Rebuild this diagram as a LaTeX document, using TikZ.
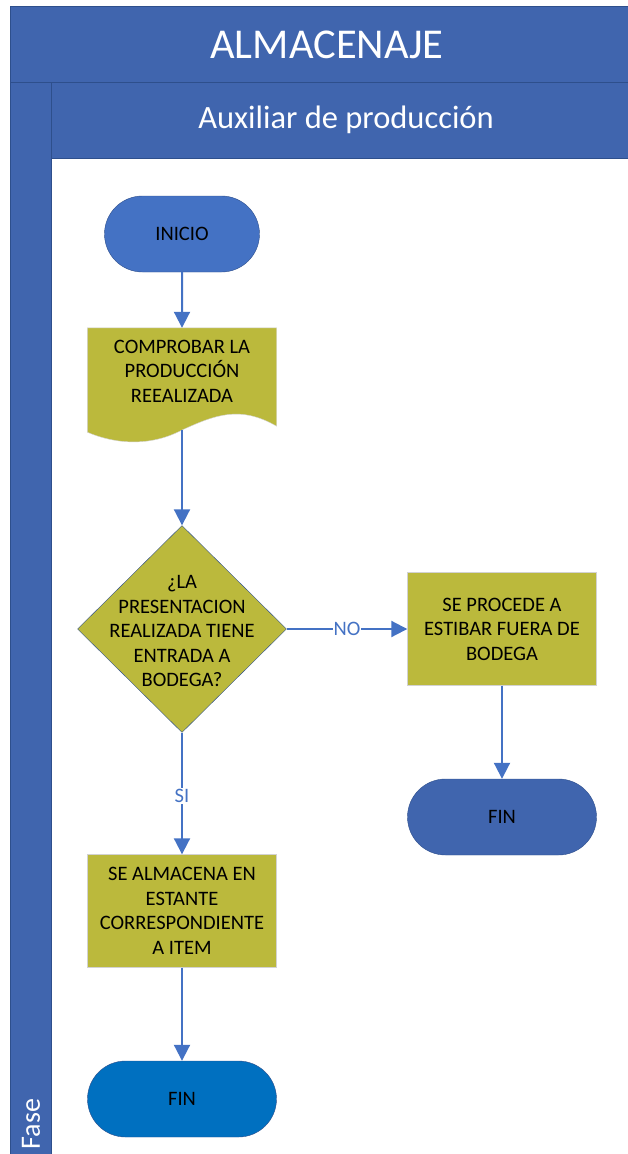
\documentclass[tikz,border=0pt]{standalone}
\usepackage{fontspec}
\setmainfont{Carlito}
\usetikzlibrary{shapes.geometric,shapes.misc,arrows.meta,calc}
\definecolor{banda}{HTML}{4065AE}
\definecolor{bordebanda}{HTML}{2E4F8C}
\definecolor{oliva}{HTML}{BBB93C}
\definecolor{flecha}{HTML}{4472C4}
\definecolor{azulfin}{HTML}{0070C0}

\begin{document}
\begin{tikzpicture}[x=1pt,y=-1pt,
		texto/.style={align=center,font=\fontsize{20.5}{24.5}\selectfont},
		caja/.style={texto,draw=gray!35,fill=oliva,minimum width=189pt,minimum height=113pt,inner sep=0pt},
		terminal/.style={texto,rounded rectangle,draw=bordebanda,minimum height=76pt,inner sep=0pt},
		flujo/.style={draw=flecha,line width=2pt,-{Triangle[width=16pt,length=16pt]}},
		rotulo/.style={fill=white,text=flecha,inner sep=1pt,font=\fontsize{20.5}{22}\selectfont}]
	\useasboundingbox (0,0) rectangle (628,1154);
	% carril con cabecera
	\filldraw[fill=banda,draw=bordebanda] (10,6) rectangle (660,82);
	\filldraw[fill=banda,draw=bordebanda] (51,82) rectangle (660,158);
	\filldraw[fill=banda,draw=bordebanda] (10,82) rectangle (51,1170);
	\node[text=white,font=\fontsize{42.5}{48}\selectfont] (titulo) at (327,45) {ALMACENAJE};
	\node[text=white,font=\fontsize{32.5}{36}\selectfont] (cargo) at (346,120) {Auxiliar de producción};
	\node[text=white,rotate=90,font=\fontsize{28}{32}\selectfont] (fase) at (31,1124) {Fase};

	% bloques
	\node[terminal,fill=flecha,minimum width=155pt] (inicio) at (182,234) {INICIO};
	\node[minimum width=189pt,minimum height=86pt,inner sep=0pt] (comprobar) at (182,371) {};
	\filldraw[fill=oliva,draw=gray!35] (comprobar.north west) -- (comprobar.north east) -- ($(comprobar.south east)+(0,12)$)
		.. controls (240,405) and (215,415) .. (182,430) .. controls (150,447) and (115,444) .. ($(comprobar.south west)+(0,18)$) -- cycle;
	\node[texto] (comprobartxt) at (comprobar) {COMPROBAR LA\\PRODUCCIÓN\\REEALIZADA};
	\coordinate (onda) at (182,430);
	\node[diamond,draw=bordebanda,fill=oliva,minimum width=209pt,minimum height=207pt,inner sep=0pt] (pregunta) at (182,629) {};
	\node[texto] (preguntatxt) at (182,631) {¿LA\\PRESENTACION\\REALIZADA TIENE\\ENTRADA A\\BODEGA?};
	\node[caja] (estibar) at (502,629) {SE PROCEDE A\\ESTIBAR FUERA DE\\BODEGA};
	\node[terminal,fill=banda,minimum width=189pt] (fin1) at (502,817) {FIN};
	\node[caja] (almacena) at (182,911) {SE ALMACENA EN\\ESTANTE\\CORRESPONDIENTE\\A ITEM};
	\node[terminal,fill=azulfin,minimum width=189pt] (fin2) at (182,1099) {FIN};

	% conectores
	\draw[flujo] (inicio) -- (comprobar.north);
	\draw[flujo] (onda) -- (pregunta.north);
	\draw[flujo] (pregunta.east) -- (estibar.west) node[rotulo,pos=0.5] {NO};
	\draw[flujo] (pregunta.south) -- (almacena.north) node[rotulo,pos=0.52] {SI};
	\draw[flujo] (estibar) -- (fin1);
	\draw[flujo] (almacena) -- (fin2);
\end{tikzpicture}
\end{document}
